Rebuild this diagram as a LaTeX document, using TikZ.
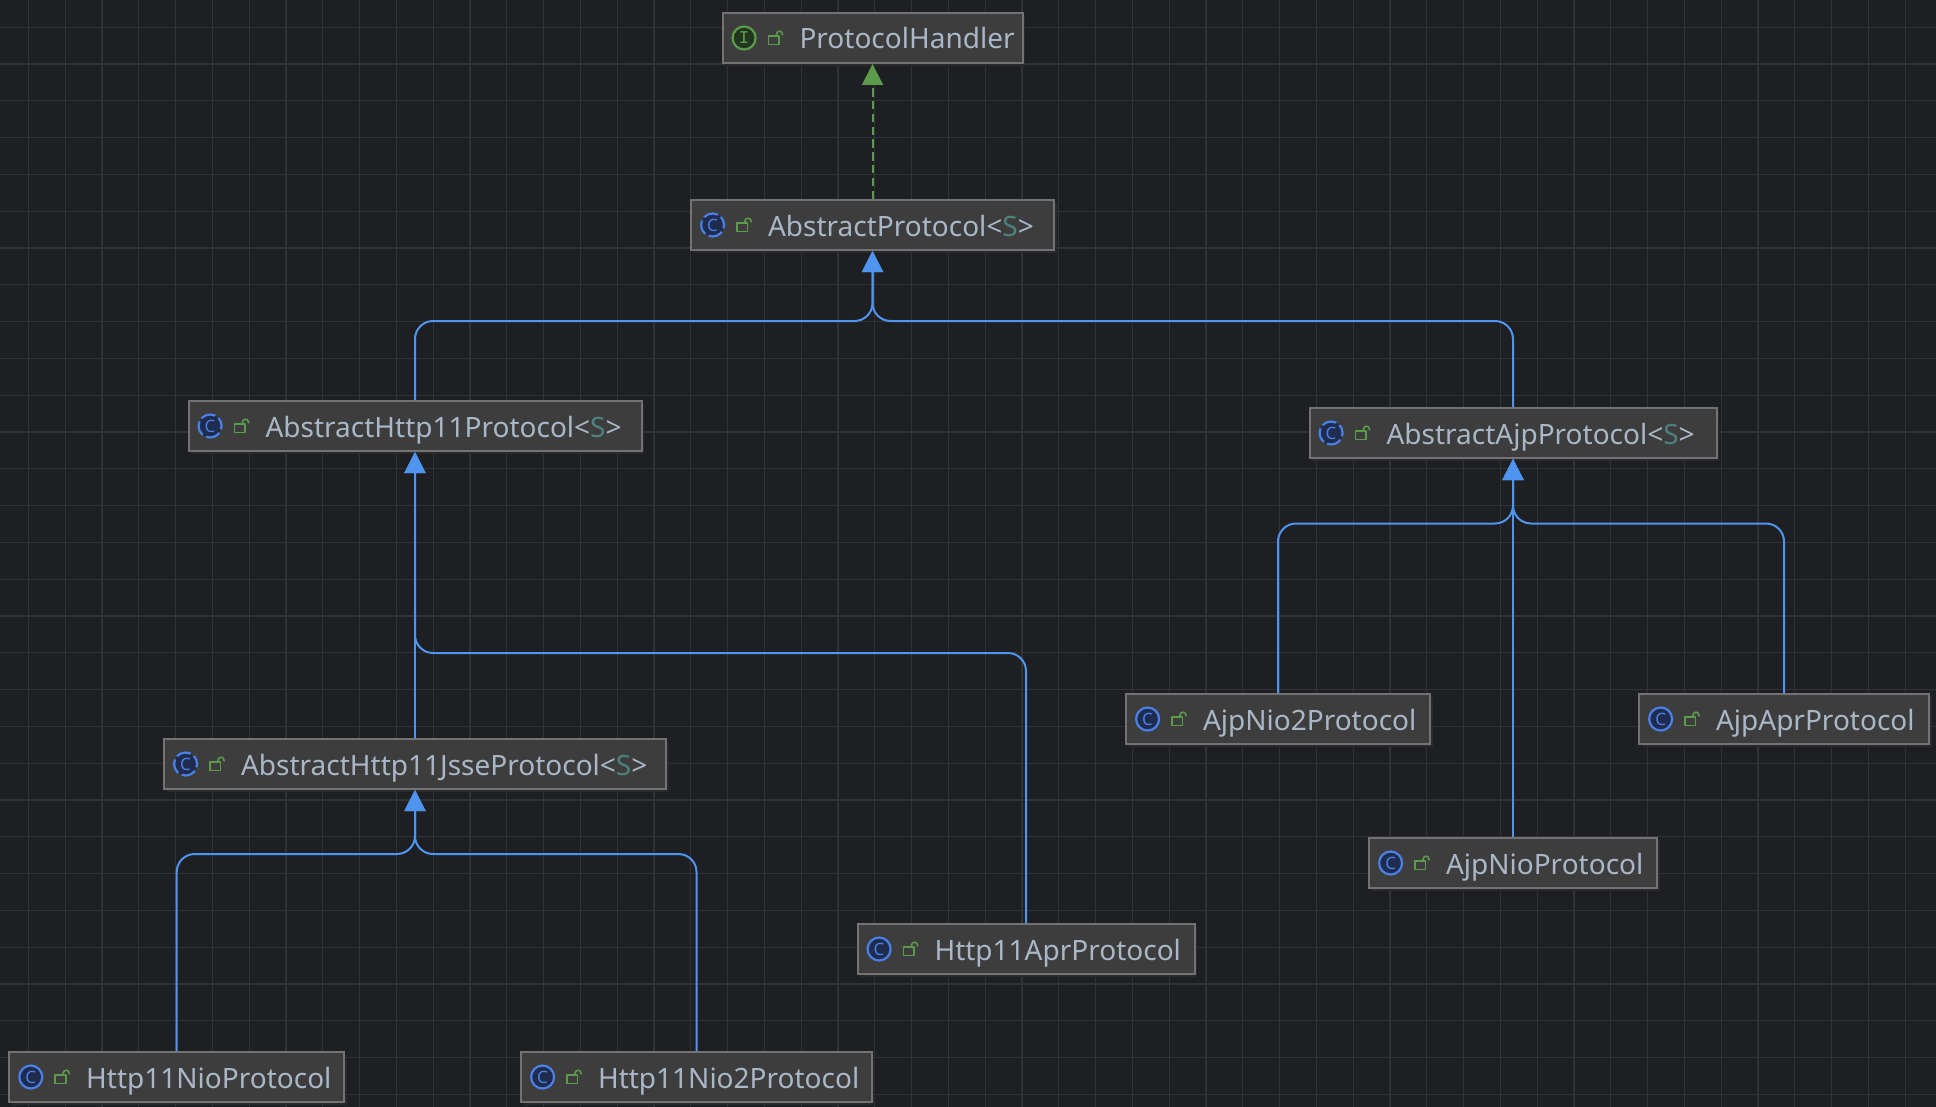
\documentclass[tikz,border=0pt]{standalone}
\usepackage{fontspec}
\setmainfont{Noto Sans}
\newfontfamily\slabfont{Liberation Mono}
\usepackage{xcolor}
\usetikzlibrary{arrows.meta, positioning, shadows}
\definecolor{canvasbg}{HTML}{1E1F22}
\definecolor{gridcol}{HTML}{313235}
\definecolor{boxfill}{HTML}{3D3D3D}
\definecolor{boxline}{HTML}{737373}
\definecolor{boxshade}{HTML}{29292B}
\definecolor{labelcol}{HTML}{A9B7C6}
\definecolor{typecol}{HTML}{4E807D}
\definecolor{extcol}{HTML}{4F95F0}
\definecolor{implcol}{HTML}{5C9A4C}
\definecolor{classcol}{HTML}{4A80E8}
\definecolor{classfill}{HTML}{1F2C4E}
\definecolor{ifacefill}{HTML}{20361F}
\newcommand{\tparam}{\textcolor{typecol}{S}}
\newcommand{\boxicons}[3]{%
  \node[#2] (#1icon) at ([xshift=11.3pt]#1.west) {#3};
  \draw[lockline] ([shift={(23.5pt,-3.2pt)}]#1.west) rectangle ([shift={(28.8pt,0.9pt)}]#1.west);
  \draw[lockline] ([shift={(27.5pt,0.9pt)}]#1.west) -- ++(0pt,1pt) arc[start angle=180,end angle=0,radius=1.5pt] -- ++(0pt,-0.6pt);
}
\begin{document}
\begin{tikzpicture}[
  x=0.5pt, y=-0.5pt,
  box/.style={draw=boxline, fill=boxfill, line width=1pt, align=left, inner xsep=0pt, inner ysep=0pt,
              minimum height=25pt, text height=14.5pt, text depth=3.5pt, text=labelcol,
              font=\fontsize{14}{16}\selectfont,
              execute at begin node=\hspace*{38.5pt},
              drop shadow={shadow xshift=1.4pt, shadow yshift=-1.4pt, fill=boxshade, opacity=1}},
  kls/.style={circle, draw=classcol, fill=classfill, line width=1.1pt, minimum size=11.5pt, inner sep=0pt,
              text=classcol, font=\fontsize{8.5}{9}\selectfont},
  abs/.style={kls, dash pattern=on 7.4pt off 1.9pt, dash phase=3pt},
  iface/.style={kls, draw=implcol, fill=ifacefill, text=implcol, font=\slabfont\fontsize{9}{9}\selectfont},
  lockline/.style={draw=implcol, line width=0.8pt, line join=round},
  ext/.style={-{Triangle[length=10.5pt, width=10.5pt]}, draw=extcol, line width=1pt, rounded corners=9pt},
  impl/.style={-{Triangle[length=10.5pt, width=10.5pt]}, draw=implcol, line width=1pt, dash pattern=on 4.2pt off 2.2pt}
]
\useasboundingbox (0,0) rectangle (1936,1107);
\fill[canvasbg] (-10,-10) rectangle (1946,1120);
\foreach \k in {0,...,52} \draw[gridcol, line width=0.6pt] ({28.3+36.8*\k},0) -- ({28.3+36.8*\k},1120);
\foreach \k in {0,...,29} \draw[gridcol, line width=0.6pt] (0,{27.2+36.8*\k}) -- (1936,{27.2+36.8*\k});

\node[box, text width=150pt] (handler) at (872.5,38) {ProtocolHandler};
\node[box, text width=181.5pt] (absproto) at (872.5,225) {AbstractProtocol<\tparam>};
\node[box, text width=226.5pt] (abshttp) at (415,426) {AbstractHttp11Protocol<\tparam>};
\node[box, text width=203.5pt] (absajp) at (1513,433) {AbstractAjpProtocol<\tparam>};
\node[box, text width=251pt] (jsse) at (415,764) {AbstractHttp11JsseProtocol<\tparam>};
\node[box, text width=168.5pt] (httpapr) at (1026,949) {Http11AprProtocol};
\node[box, text width=152pt] (ajpnio2) at (1278,719) {AjpNio2Protocol};
\node[box, text width=145pt] (ajpapr) at (1784,719) {AjpAprProtocol};
\node[box, text width=144pt] (ajpnio) at (1513,863) {AjpNioProtocol};
\node[box, text width=167.5pt] (httpnio) at (176.7,1077) {Http11NioProtocol};
\node[box, text width=175.5pt] (httpnio2) at (696.5,1077) {Http11Nio2Protocol};

\boxicons{handler}{iface}{I}
\boxicons{absproto}{abs}{C}
\boxicons{abshttp}{abs}{C}
\boxicons{absajp}{abs}{C}
\boxicons{jsse}{abs}{C}
\boxicons{httpapr}{kls}{C}
\boxicons{ajpnio2}{kls}{C}
\boxicons{ajpapr}{kls}{C}
\boxicons{ajpnio}{kls}{C}
\boxicons{httpnio}{kls}{C}
\boxicons{httpnio2}{kls}{C}

\coordinate (protojoin) at (872.5,321);
\coordinate (httpjoin) at (415,653);
\coordinate (jssejoin) at (415,854);
\coordinate (ajpjoin) at (1513,523.5);

\draw[impl] (absproto) -- (handler);
\draw[ext] (abshttp.north) |- (protojoin) -- (absproto.south);
\draw[ext] (absajp.north) |- (protojoin) -- (absproto.south);
\draw[ext] (jsse) -- (abshttp);
\draw[ext] (httpapr.north) |- (httpjoin) -- (abshttp.south);
\draw[ext] (httpnio.north) |- (jssejoin) -- (jsse.south);
\draw[ext] (httpnio2.north) |- (jssejoin) -- (jsse.south);
\draw[ext] (ajpnio2.north) |- (ajpjoin) -- (absajp.south);
\draw[ext] (ajpapr.north) |- (ajpjoin) -- (absajp.south);
\draw[ext] (ajpnio) -- (absajp);
\end{tikzpicture}
\end{document}
